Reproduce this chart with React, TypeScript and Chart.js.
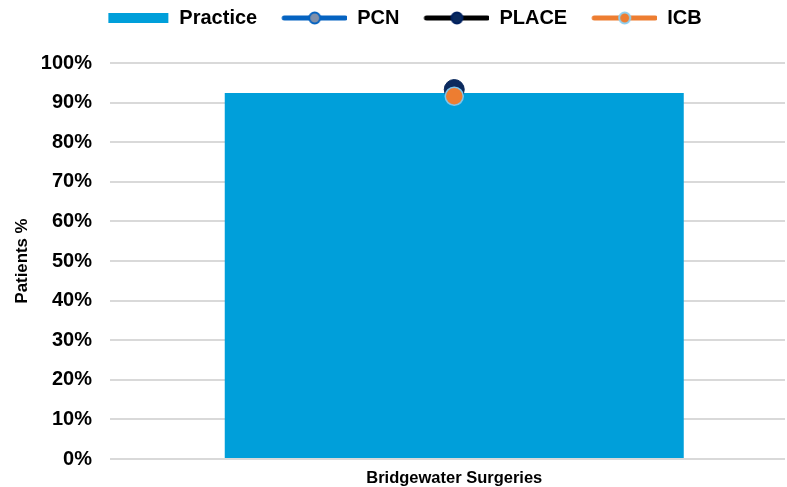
import React, { useEffect, useRef } from "react";
import { Chart, registerables } from "chart.js";

Chart.register(...registerables);

const categories = ["Bridgewater Surgeries"];
const practiceValues = [92.4];
const pcnValues = [93.2];
const placeValues = [93.3];
const icbValues = [91.6];
const yTicks = [0, 10, 20, 30, 40, 50, 60, 70, 80, 90, 100];
const legendNames = ["Practice", "PCN", "PLACE", "ICB"];

const toPoints = (vals: number[]) => vals.map((v, i) => ({ x: i, y: v }));

function legendImage(kind: string, lineColor: string, fill: string, border: string) {
  const c = document.createElement("canvas");
  c.width = 82;
  c.height = 16;
  const ctx = c.getContext("2d")!;
  if (kind === "bar") {
    ctx.fillStyle = lineColor;
    ctx.fillRect(21, 3, 60, 10);
  } else {
    ctx.strokeStyle = lineColor;
    ctx.lineWidth = 5;
    ctx.lineCap = "round";
    ctx.beginPath();
    ctx.moveTo(19, 8);
    ctx.lineTo(80, 8);
    ctx.stroke();
    ctx.beginPath();
    ctx.arc(49.5, 8, 5.5, 0, Math.PI * 2);
    ctx.fillStyle = fill;
    ctx.fill();
    ctx.lineWidth = 2;
    ctx.strokeStyle = border;
    ctx.stroke();
  }
  return c;
}

const legendSpacer = {
  id: "legendSpacer",
  beforeInit(chart: any) {
    const lg = chart.legend;
    if (lg && !lg.__patched) {
      const orig = lg.fit;
      lg.fit = function () {
        orig.call(this);
        this.height = 63;
      };
      lg.__patched = true;
    }
  },
};

export default function App() {
  const ref = useRef<HTMLCanvasElement | null>(null);
  useEffect(() => {
    document.body.style.margin = "0";
    const imgs = [
      legendImage("bar", "#009FDA", "", ""),
      legendImage("line", "#0563C1", "#7F8FA9", "#0563C1"),
      legendImage("line", "#000000", "#0B2A5E", "#002060"),
      legendImage("line", "#ED7D31", "#ED7D31", "#8FD0F0"),
    ];
    const font = "Liberation Sans, Arial, sans-serif";
    const chart = new Chart(ref.current!, {
      type: "bar",
      plugins: [legendSpacer],
      data: {
        datasets: [
          {
            type: "line",
            label: "ICB",
            data: toPoints(icbValues),
            borderColor: "#ED7D31",
            backgroundColor: "#ED7D31",
            pointBackgroundColor: "#ED7D31",
            pointBorderColor: "#7FC4EA",
            pointBorderWidth: 1.5,
            pointRadius: 9,
            showLine: false,
            order: 1,
          } as any,
          {
            type: "line",
            label: "PLACE",
            data: toPoints(placeValues),
            borderColor: "#000000",
            pointBackgroundColor: "#0B2A5E",
            pointBorderColor: "#0B2A5E",
            pointBorderWidth: 1,
            pointRadius: 10,
            showLine: false,
            order: 2,
          } as any,
          {
            type: "line",
            label: "PCN",
            data: toPoints(pcnValues),
            borderColor: "#0563C1",
            pointBackgroundColor: "#7F8FA9",
            pointBorderColor: "#0563C1",
            pointBorderWidth: 1.5,
            pointRadius: 9,
            showLine: false,
            order: 3,
          } as any,
          {
            type: "bar",
            label: "Practice",
            data: toPoints(practiceValues),
            backgroundColor: "#009FDA",
            borderWidth: 0,
            categoryPercentage: 1,
            barPercentage: 0.68,
            order: 4,
          } as any,
        ],
      },
      options: {
        animation: false,
        responsive: false,
        maintainAspectRatio: false,
        layout: { autoPadding: false, padding: { top: 0, right: 2, bottom: 0, left: 4 } },
        plugins: {
          tooltip: { enabled: false },
          legend: {
            position: "top",
            labels: {
              usePointStyle: true,
              pointStyleWidth: 82,
              boxHeight: 16,
              padding: 8,
              color: "#000",
              font: { family: font, size: 20, weight: "bold" },
              generateLabels: () =>
                legendNames.map((n, i) => ({
                  text: n,
                  pointStyle: imgs[i] as any,
                  fillStyle: "transparent",
                  strokeStyle: "transparent",
                  lineWidth: 0,
                  hidden: false,
                  datasetIndex: 3 - i,
                  fontColor: "#000",
                })),
            },
          },
        },
        scales: {
          x: {
            type: "linear",
            bounds: "data",
            min: -0.52,
            max: 0.48,
            grid: { display: false, drawTicks: false },
            border: { display: false },
            afterBuildTicks: (axis: any) => {
              axis.ticks = categories.map((_, i) => ({ value: i }));
            },
            afterFit: (s: any) => {
              s.paddingLeft = 0;
              s.paddingRight = 0;
              s.height = 28;
            },
            ticks: {
              color: "#000",
              padding: 10,
              maxRotation: 0,
              callback: (v: any) => categories[v] ?? "",
              font: { family: font, size: 16.5, weight: "bold" },
            },
          },
          y: {
            min: 0,
            max: 100,
            afterBuildTicks: (axis: any) => {
              axis.ticks = yTicks.map((v) => ({ value: v }));
            },
            afterFit: (s: any) => {
              s.paddingTop = 0;
              s.paddingBottom = 0;
              s.width = 106;
            },
            border: { display: false },
            grid: { color: "#D9D9D9", lineWidth: 2, drawTicks: false },
            title: {
              display: true,
              text: "Patients %",
              color: "#000",
              padding: { top: 8, bottom: 9 },
              font: { family: font, size: 16.8, weight: "bold" },
            },
            ticks: {
              color: "#000",
              padding: 18,
              callback: (v: any) => v + "%",
              font: { family: font, size: 20, weight: "bold" },
            },
          },
        },
      },
    });
    return () => chart.destroy();
  }, []);
  return (
    <div style={{ width: 787, height: 487 }}>
      <canvas ref={ref} width={787} height={487} style={{ width: 787, height: 487 }} />
    </div>
  );
}
